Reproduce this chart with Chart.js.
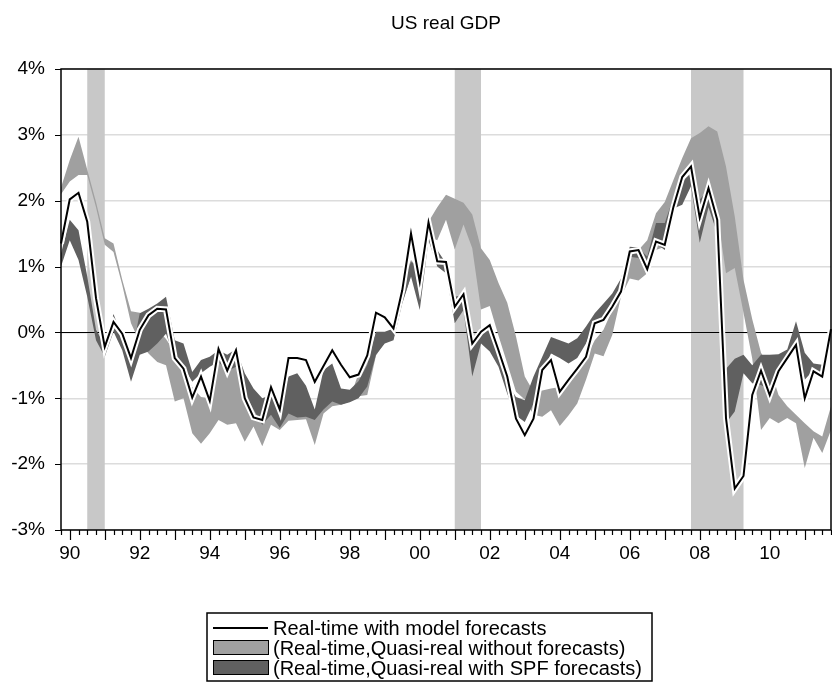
<!DOCTYPE html>
<html>
<head>
<meta charset="utf-8">
<title>US real GDP</title>
<script src="https://cdn.jsdelivr.net/npm/chart.js@4.4.1/dist/chart.umd.min.js"></script>
<style>
  html, body { margin: 0; padding: 0; background: #fff; }
  #wrap { width: 832px; height: 685px; position: relative; }
</style>
</head>
<body>
<div id="wrap"><canvas id="chart"></canvas></div>
<script>
// Quarterly sample 1989Q4 - 2011Q4
const firstYear = 1989, firstQuarter = 4, nQuarters = 89;
const quarters = [];
for (let k = 0; k < nQuarters; k++) {
  const q = firstQuarter - 1 + k;
  quarters.push(`${firstYear + Math.floor(q / 4)}Q${(q % 4) + 1}`);
}

const yearTicks = ['90', '92', '94', '96', '98', '00', '02', '04', '06', '08', '10'];
const yTicks = ['-3%', '-2%', '-1%', '0%', '1%', '2%', '3%', '4%'];

// NBER recessions (first and last quarter)
const recessions = [['1990Q3', '1991Q1'], ['2001Q1', '2001Q4'], ['2007Q4', '2009Q2']];

// Real-time estimate with model forecasts
const realTime = [
  1.35, 2.02, 2.12, 1.68, 0.52, -0.22, 0.16, -0.02, -0.39, 0.04,
  0.26, 0.36, 0.35, -0.39, -0.55, -0.99, -0.67, -1.04, -0.25, -0.58,
  -0.27, -1.0, -1.29, -1.33, -0.83, -1.17, -0.39, -0.39, -0.42, -0.75,
  -0.51, -0.27, -0.49, -0.68, -0.64, -0.35, 0.30, 0.23, 0.06, 0.64,
  1.50, 0.77, 1.67, 1.08, 1.07, 0.39, 0.58, -0.17, 0.01, 0.11,
  -0.27, -0.67, -1.31, -1.56, -1.31, -0.57, -0.42, -0.90, -0.72, -0.55,
  -0.37, 0.14, 0.19, 0.39, 0.62, 1.23, 1.25, 0.96, 1.38, 1.33,
  1.91, 2.36, 2.52, 1.74, 2.19, 1.71, -1.30, -2.37, -2.18, -0.95,
  -0.58, -0.95, -0.59, -0.39, -0.19, -1.0, -0.59, -0.67, 0.05
];

// Range: real-time vs quasi-real, no forecasts
const noFcstHigh = [
  2.2, 2.62, 2.97, 2.47, 1.98, 1.43, 1.35, 0.8, 0.32, 0.3,
  0.2, 0.05, -0.1, -0.3, -0.57, -0.83, -0.98, -1.0, -0.40, -0.54,
  -0.47, -0.87, -1.12, -1.35, -1.2, -1.4, -1.18, -1.24, -1.23, -1.28,
  -1.12, -1.0, -1.05, -1.01, -0.62, -0.4, 0.0, 0.0, 0.05, 0.8,
  1.1, 0.95, 1.68, 1.9, 2.09, 2.03, 1.97, 1.79, 1.28, 1.1,
  0.75, 0.45, -0.06, -0.67, -0.9, -0.88, -0.85, -0.83, -0.75, -0.62,
  -0.39, -0.12, 0.04, 0.34, 0.69, 1.15, 1.25, 1.4, 1.81, 1.98,
  2.32, 2.65, 2.95, 3.03, 3.13, 3.05, 2.52, 1.76, 0.8, 0.2,
  -0.31, -0.52, -0.95, -1.12, -1.25, -1.38, -1.5, -1.58, -1.12
];
const noFcstLow = [
  2.1, 2.29, 2.39, 2.39, 1.9, 1.33, 1.22, 0.72, 0.14, -0.15,
  -0.32, -0.45, -0.5, -1.05, -1.0, -1.53, -1.69, -1.53, -1.33, -1.4,
  -1.38, -1.66, -1.43, -1.73, -1.4, -1.48, -1.34, -1.33, -1.32, -1.71,
  -1.23, -1.12, -1.1, -1.05, -0.97, -0.95, -0.35, -0.15, -0.1, 0.45,
  0.85, 0.75, 1.45, 1.4, 1.71, 1.26, 1.64, 1.28, 0.35, 0.4,
  -0.05, -0.47, -0.9, -1.02, -1.25, -1.28, -1.18, -1.42, -1.26, -1.08,
  -0.72, -0.32, -0.36, -0.04, 0.54, 0.82, 0.79, 0.9, 1.25, 1.3,
  2.0, 2.37, 2.45, 2.0, 2.22, 1.8, 0.9, 0.98, 0.3, -0.4,
  -1.48, -1.3, -1.38, -1.3, -1.38, -2.06, -1.6, -1.83, -1.48
];

// Range: real-time vs quasi-real, with SPF forecasts
const spfHigh = [
  1.2, 1.71, 1.55, 0.85, 0.04, -0.19, 0.28, -0.07, -0.37, 0.29,
  0.36, 0.44, 0.54, -0.12, -0.17, -0.6, -0.42, -0.37, -0.27, -0.34,
  -0.25, -0.62, -0.85, -1.0, -0.95, -1.1, -0.67, -0.62, -0.81, -1.17,
  -0.57, -0.47, -0.85, -0.87, -0.74, -0.49, 0.01, 0.01, 0.06, 0.74,
  1.07, 1.0, 1.5, 1.25, 1.05, 0.54, 0.57, -0.15, 0.01, 0.04,
  -0.39, -0.77, -0.98, -1.03, -0.67, -0.37, -0.07, -0.12, -0.17, -0.09,
  0.09, 0.29, 0.44, 0.59, 0.82, 1.3, 1.29, 1.15, 1.66, 1.66,
  2.05, 2.29, 2.42, 2.02, 2.17, 1.76, -0.55, -0.4, -0.34, -0.5,
  -0.34, -0.34, -0.33, -0.26, 0.17, -0.31, -0.47, -0.49, 0.0
];
const spfLow = [
  1.0, 1.4, 1.1, 0.54, -0.12, -0.37, 0.01, -0.27, -0.75, -0.34,
  -0.29, -0.17, -0.02, -0.39, -0.52, -0.75, -0.62, -0.52, -0.45, -0.59,
  -0.52, -0.92, -1.17, -1.4, -1.25, -1.45, -1.23, -1.29, -1.28, -1.33,
  -1.17, -1.05, -1.1, -1.06, -1.0, -0.82, -0.34, -0.17, -0.12, 0.44,
  0.85, 0.34, 1.4, 1.0, 0.9, 0.14, 0.34, -0.67, -0.17, -0.29,
  -0.52, -0.93, -1.26, -1.36, -1.08, -0.62, -0.32, -0.39, -0.47, -0.39,
  -0.17, 0.14, 0.21, 0.42, 0.64, 1.15, 1.13, 0.9, 1.35, 1.25,
  1.88, 1.94, 2.22, 1.36, 1.9, 1.5, -1.38, -1.2, -0.62, -0.77,
  -0.8, -0.87, -0.62, -0.36, -0.16, -0.72, -0.57, -0.62, -0.05
];

const LIGHT = '#a0a0a0';
const DARK = '#606060';
const SHADE = '#c8c8c8';
const FONT = '"Liberation Sans", Arial, Helvetica, sans-serif';

const legendItems = [
  { label: 'Real-time with model forecasts', type: 'line', color: '#000' },
  { label: '(Real-time,Quasi-real without forecasts)', type: 'box', color: LIGHT },
  { label: '(Real-time,Quasi-real with SPF forecasts)', type: 'box', color: DARK }
];

const bandLine = { borderWidth: 0, borderColor: 'rgba(0,0,0,0)', pointRadius: 0, tension: 0 };

// Recession bars, zero line, frame, tick marks, title and the boxed legend
const decorations = {
  id: 'decorations',
  beforeDatasetsDraw(chart) {
    const { ctx, chartArea: a, scales: { x, y } } = chart;
    ctx.save();
    ctx.fillStyle = SHADE;
    recessions.forEach(([from, to]) => {
      const x0 = x.getPixelForValue(quarters.indexOf(from));
      const x1 = x.getPixelForValue(quarters.indexOf(to));
      ctx.fillRect(x0, a.top, x1 - x0, a.bottom - a.top);
    });
    const y0 = Math.round(y.getPixelForValue(0)) + 0.5;
    ctx.strokeStyle = '#000';
    ctx.lineWidth = 1;
    ctx.beginPath();
    ctx.moveTo(a.left, y0);
    ctx.lineTo(a.right, y0);
    ctx.stroke();
    ctx.restore();
  },
  afterDatasetsDraw(chart) {
    const { ctx, chartArea: a, scales: { x, y } } = chart;
    ctx.save();
    ctx.strokeStyle = '#000';
    ctx.lineWidth = 1.5;
    ctx.strokeRect(a.left, a.top, a.right - a.left, a.bottom - a.top);
    ctx.lineWidth = 1.2;
    ctx.beginPath();
    quarters.forEach((q, k) => {
      const px = Math.round(x.getPixelForValue(k)) + 0.5;
      const len = q.endsWith('Q1') ? 10 : 5;
      ctx.moveTo(px, a.bottom);
      ctx.lineTo(px, a.bottom + len);
    });
    yTicks.forEach((t, k) => {
      const py = Math.round(y.getPixelForValue(k - 3)) + 0.5;
      ctx.moveTo(a.left - 6, py);
      ctx.lineTo(a.left, py);
    });
    ctx.stroke();
    ctx.restore();
  },
  afterDraw(chart) {
    const { ctx, chartArea: a } = chart;
    ctx.save();
    ctx.fillStyle = '#000';
    ctx.font = `19px ${FONT}`;
    ctx.textAlign = 'center';
    ctx.textBaseline = 'alphabetic';
    ctx.fillText('US real GDP', (a.left + a.right) / 2, 29);

    // legend box
    const box = { left: 207, top: 613, width: 445, height: 68 };
    ctx.lineWidth = 1.5;
    ctx.strokeStyle = '#000';
    ctx.strokeRect(box.left, box.top, box.width, box.height);
    ctx.font = `20px ${FONT}`;
    ctx.textAlign = 'left';
    legendItems.forEach((item, k) => {
      const base = box.top + 22 + k * 20;
      const sx = box.left + 6, sw = 55;
      if (item.type === 'line') {
        ctx.lineWidth = 2;
        ctx.strokeStyle = item.color;
        ctx.beginPath();
        ctx.moveTo(sx, base - 7);
        ctx.lineTo(sx + sw, base - 7);
        ctx.stroke();
      } else {
        ctx.fillStyle = item.color;
        ctx.fillRect(sx, base - 15, sw, 14);
        ctx.lineWidth = 1;
        ctx.strokeStyle = '#000';
        ctx.strokeRect(sx + 0.5, base - 14.5, sw, 14);
      }
      ctx.fillStyle = '#000';
      ctx.fillText(item.label, box.left + 66, base);
    });
    ctx.restore();
  }
};

Chart.defaults.font.family = FONT;
Chart.defaults.color = '#000';

new Chart(document.getElementById('chart'), {
  type: 'line',
  data: {
    labels: quarters,
    datasets: [
      { label: legendItems[0].label, data: realTime, borderColor: '#000', borderWidth: 2, pointRadius: 0, tension: 0, fill: false },
      { label: 'halo', data: realTime, borderColor: '#fff', borderWidth: 6, pointRadius: 0, tension: 0, fill: false },
      { label: 'spf high', data: spfHigh, ...bandLine, fill: false },
      { label: legendItems[2].label, data: spfLow, ...bandLine, fill: '-1', backgroundColor: DARK },
      { label: 'nofcst high', data: noFcstHigh, ...bandLine, fill: false },
      { label: legendItems[1].label, data: noFcstLow, ...bandLine, fill: '-1', backgroundColor: LIGHT }
    ]
  },
  options: {
    responsive: true,
    maintainAspectRatio: false,
    animation: false,
    layout: { padding: { top: 69, right: 1, bottom: 115, left: 0 } },
    plugins: {
      legend: { display: false },
      title: { display: false },
      tooltip: { enabled: false }
    },
    scales: {
      x: {
        type: 'category',
        offset: false,
        grid: { display: false, drawTicks: false },
        border: { display: false },
        ticks: {
          autoSkip: false,
          maxRotation: 0,
          padding: 12,
          font: { size: 19 },
          callback(value, index) {
            const q = quarters[index];
            if (!q.endsWith('Q1')) return '';
            const yr = q.slice(0, 4);
            return yearTicks.find(t => yr.endsWith(t)) || '';
          }
        },
        afterFit(scale) {
          scale.height = 40;
          scale.paddingLeft = 0;
          scale.paddingRight = 0;
        }
      },
      y: {
        min: -3,
        max: 4,
        grid: {
          drawTicks: false,
          color: '#dcdcdc',
          lineWidth: 1.5
        },
        border: { display: false },
        ticks: {
          stepSize: 1,
          padding: 16,
          font: { size: 19 },
          callback(value) { return yTicks[value + 3]; }
        },
        afterFit(scale) { scale.width = 61; }
      }
    }
  },
  plugins: [decorations]
});
</script>
</body>
</html>
